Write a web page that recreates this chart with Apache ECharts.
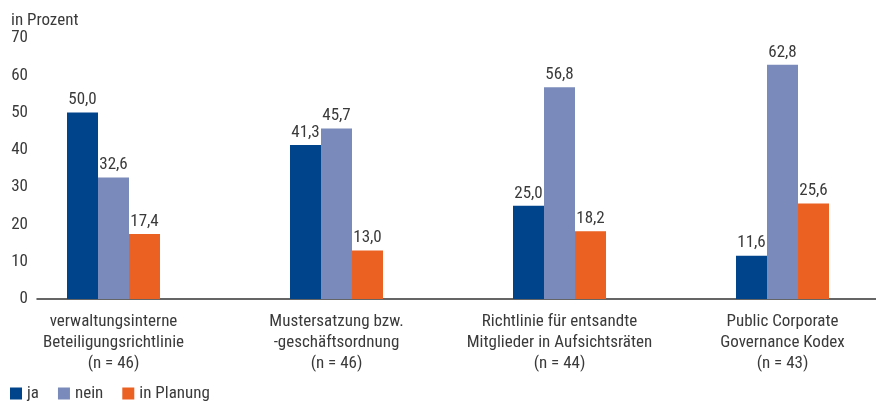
<!DOCTYPE html>
<html lang="de">
<head>
<meta charset="utf-8">
<title>Beteiligungsrichtlinien</title>
<style>
  html, body { margin: 0; padding: 0; background: #fff; }
  #chart { width: 876px; height: 401px; }
</style>
</head>
<body>
<div id="chart"></div>
<script src="https://cdn.jsdelivr.net/npm/echarts@6/dist/echarts.min.js"></script>
<script>
var categories = [
  'verwaltungsinterne\nBeteiligungsrichtlinie\n(n = 46)',
  'Mustersatzung bzw.\n-geschäftsordnung\n(n = 46)',
  'Richtlinie für entsandte\nMitglieder in Aufsichtsräten\n(n = 44)',
  'Public Corporate\nGovernance Kodex\n(n = 43)'
];
var seriesNames = ['ja', 'nein', 'in Planung'];
var jaValues = [50.0, 41.3, 25.0, 11.6];
var neinValues = [32.6, 45.7, 56.8, 62.8];
var planungValues = [17.4, 13.0, 18.2, 25.6];
var colors = ['#00458b', '#7a8aba', '#ea6122'];

// condensed Roboto is the closest thing to the original narrow face
var font = 'Roboto, sans-serif';
var stretch = 'condensed';
var txt = '#3a3a3a';

var chart = echarts.init(document.getElementById('chart'));

function bar(name, values, color) {
  return {
    name: name,
    type: 'bar',
    xAxisIndex: 1,
    yAxisIndex: 1,
    data: values,
    barWidth: 31,
    barGap: '0%',
    itemStyle: { color: color },
    label: {
      show: true,
      position: 'top',
      distance: 4,
      color: txt,
      fontStyle: stretch,
      fontFamily: font,
      fontSize: 17,
      formatter: function (p) { return p.value.toFixed(1).replace('.', ','); }
    }
  };
}

chart.setOption({
  animation: false,
  color: colors,
  title: {
    text: 'in Prozent',
    left: 6,
    top: 7,
    textStyle: { fontStyle: stretch, fontFamily: font, fontSize: 17, fontWeight: 'normal', color: txt }
  },
  legend: {
    left: 5,
    top: 380,
    itemWidth: 12,
    itemHeight: 12,
    itemGap: 19,
    icon: 'rect',
    data: seriesNames,
    textStyle: { fontStyle: stretch, fontFamily: font, fontSize: 17, color: txt }
  },
  grid: [
    { left: 37, right: 0, top: 38, bottom: 102, outerBoundsMode: 'none' },
    { left: 2, right: -18, top: 38, bottom: 102, outerBoundsMode: 'none' }
  ],
  xAxis: [
    {
      type: 'category',
      gridIndex: 0,
      data: categories,
      axisLine: { lineStyle: { color: '#333', width: 1.5 } },
      axisTick: { show: false },
      axisLabel: { show: false }
    },
    {
      type: 'category',
      gridIndex: 1,
      data: categories,
      axisLine: { show: false },
      axisTick: { show: false },
      axisLabel: {
        interval: 0,
        margin: 12,
        color: txt,
        fontStyle: stretch,
        fontFamily: font,
        fontSize: 17,
        lineHeight: 21
      }
    }
  ],
  yAxis: [
    {
      type: 'value',
      gridIndex: 0,
      min: 0,
      max: 70,
      interval: 10,
      axisLine: { show: false },
      axisTick: { show: false },
      splitLine: { show: false },
      axisLabel: { margin: 9, color: txt, fontStyle: stretch, fontFamily: font, fontSize: 17 }
    },
    {
      type: 'value',
      gridIndex: 1,
      min: 0,
      max: 70,
      interval: 10,
      show: false
    }
  ],
  series: [
    bar(seriesNames[0], jaValues, colors[0]),
    bar(seriesNames[1], neinValues, colors[1]),
    bar(seriesNames[2], planungValues, colors[2])
  ]
});
</script>
</body>
</html>
